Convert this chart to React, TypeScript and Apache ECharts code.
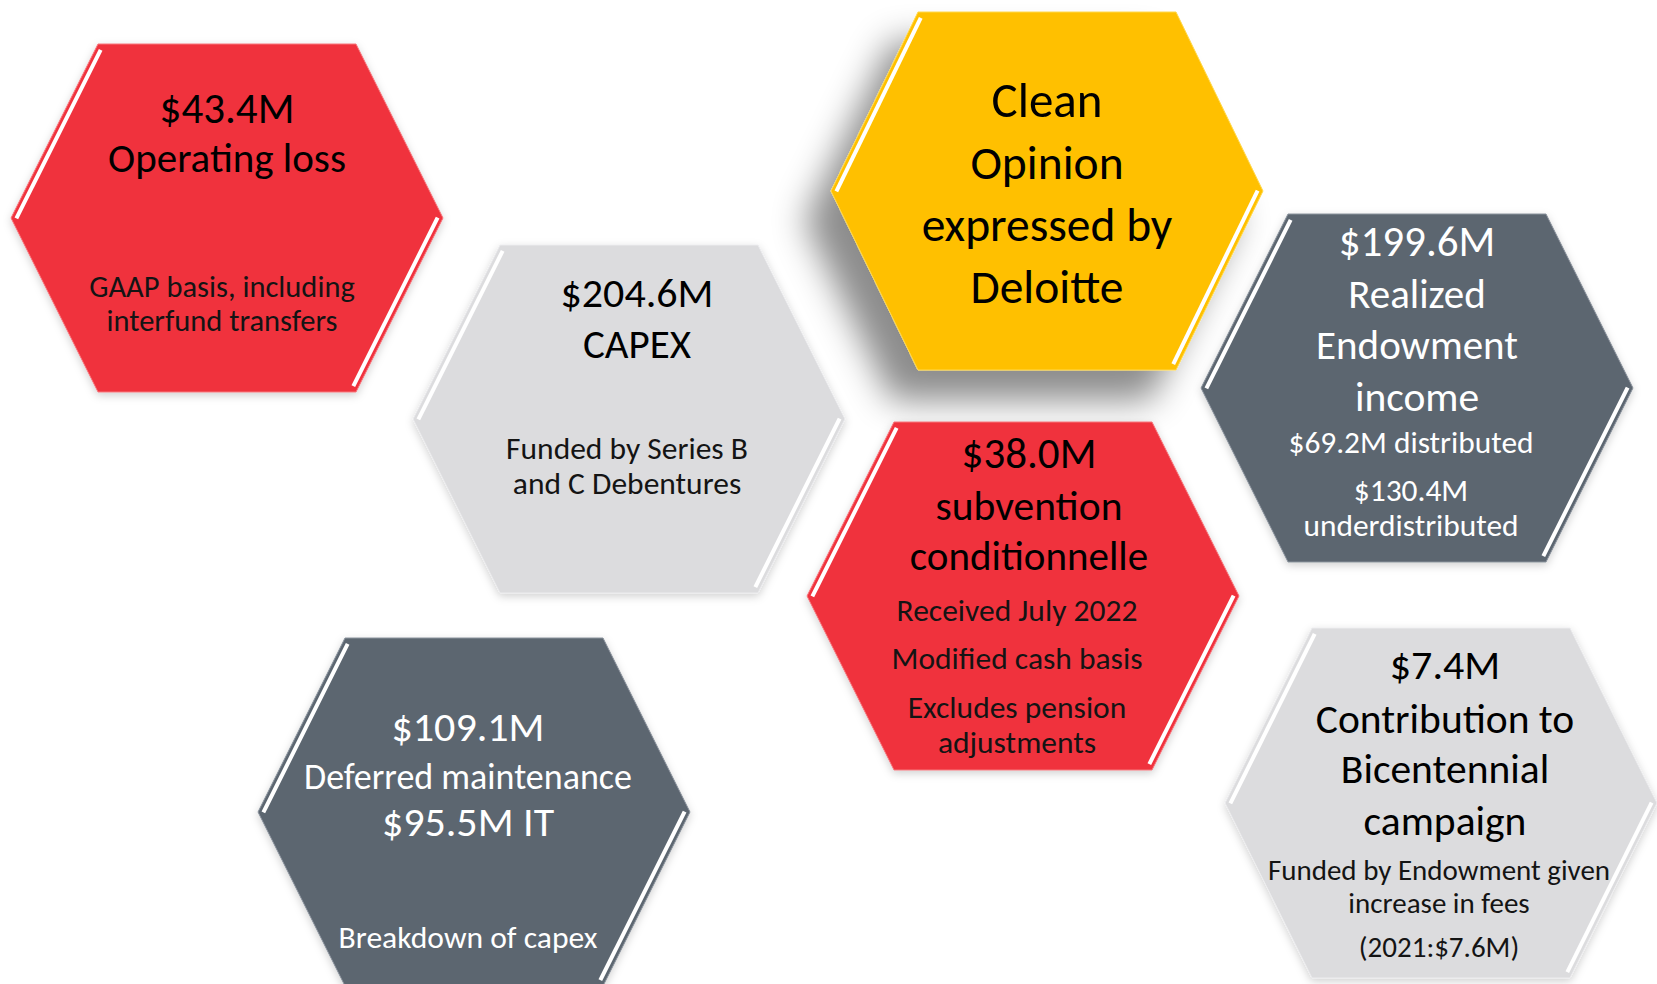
import React, { useEffect, useRef } from "react";
import * as echarts from "echarts";

// ---- content ----
const hexTitles: string[][] = [
  ["$43.4M", "Operating loss"],
  ["$204.6M", "CAPEX"],
  ["Clean", "Opinion", "expressed by", "Deloitte"],
  ["$199.6M", "Realized", "Endowment", "income"],
  ["$38.0M", "subvention", "conditionnelle"],
  ["$109.1M", "Deferred maintenance", "$95.5M IT"],
  ["$7.4M", "Contribution to", "Bicentennial", "campaign"],
];
// note paragraphs (a paragraph may wrap onto two lines)
const hexNotes: string[][] = [
  ["GAAP basis, including\ninterfund transfers"],
  ["Funded by Series B\nand C Debentures"],
  [],
  ["$69.2M distributed", "$130.4M\nunderdistributed"],
  ["Received July 2022", "Modified cash basis", "Excludes pension\nadjustments"],
  ["Breakdown of capex"],
  ["Funded by Endowment given\nincrease in fees", "(2021:$7.6M)"],
];
const hexKind = ["red", "light", "gold", "slate", "red", "slate", "light"];
// hexagon centres, in the hidden axes' units
const hexCenterX = [227, 629, 1047, 1417, 1023, 474, 1441];
const hexCenterY = [218, 419, 191, 388, 596, 812, 803];

// ---- layout / style ----
const HALF_W = 216;
const INSET = 87;
const HALF_H = [174, 174, 179, 174, 174, 174, 175];
const TITLE_DY = [
  [-110, -60],
  [-127, -75],
  [-91, -28, 34, 96],
  [-147, -94, -43, 8],
  [-143, -91, -40],
  [-86, -35, 9],
  [-139, -85, -35, 17],
];
const NOTE_DY = [[85.5], [46.5], [], [54, 119.5], [14, 62, 128.5], [125], [83.5, 144]];
const NOTE_LINE_H = [34, 35, 0, 35, 35, 35, 33];
const TITLE_DX = [0, 8, 0, 0, 6, -6, 4];
const NOTE_DX = [-5, -2, 0, -6, -6, -6, -2];
const TITLE_SIZE = [
  [43, 41],
  [42, 41],
  [49, 47.5, 47.5, 47.5],
  [43, 41, 41, 41.5],
  [43, 41.5, 41],
  [42, 36, 42],
  [42, 41.5, 41.5, 41.5],
];
const NOTE_SIZE = [30.5, 31.5, 0, 31.4, 31.5, 31.6, 29];
const FONT = "Calibri, Carlito, Lato, 'Open Sans', sans-serif";

const PALETTE: Record<string, any> = {
  red: { fill: "#F0333D", edge: "#F6767C", text: "#000000", note: "#141414" },
  light: { fill: "#DCDCDE", edge: "#ECECEE", text: "#000000", note: "#141414" },
  gold: { fill: "#FFC000", edge: "#FFD84D", text: "#000000", note: "#141414" },
  slate: { fill: "#5C6670", edge: "#8A939C", text: "#FFFFFF", note: "#FFFFFF" },
};

export default function App() {
  const ref = useRef<HTMLDivElement>(null);
  useEffect(() => {
    document.body.style.margin = "0";
    if (!ref.current) return;
    const chart = echarts.init(ref.current, undefined, { renderer: "svg" });
    const option: any = {
      animation: false,
      backgroundColor: "#FFFFFF",
      grid: { left: 0, right: 0, top: 0, bottom: 0 },
      xAxis: { type: "value", min: 0, max: 1657, show: false },
      yAxis: { type: "value", min: 0, max: 984, inverse: true, show: false },
      series: [
        {
          type: "custom",
          coordinateSystem: "cartesian2d",
          clip: false,
          data: hexCenterX.map((x, i) => [x, hexCenterY[i], i]),
          renderItem: (_params: any, api: any) => {
            const i = api.value(2) as number;
            const [cx, cy] = api.coord([api.value(0), api.value(1)]);
            const sz = api.size([HALF_W, HALF_H[i]]);
            const hw = Math.abs(sz[0]);
            const hh = Math.abs(sz[1]);
            const ins = Math.abs(api.size([INSET, 0])[0]);
            const pal = PALETTE[hexKind[i]];
            const pts = [
              [cx - hw, cy],
              [cx - hw + ins, cy - hh],
              [cx + hw - ins, cy - hh],
              [cx + hw, cy],
              [cx + hw - ins, cy + hh],
              [cx - hw + ins, cy + hh],
            ];
            const gold = hexKind[i] === "gold";
            const children: any[] = [];
            children.push({
              type: "polygon",
              shape: { points: pts },
              style: {
                fill: pal.fill,
                stroke: pal.edge,
                lineWidth: 1,
                shadowBlur: gold ? 34 : 8,
                shadowColor: gold ? "rgba(0,0,0,0.45)" : "rgba(0,0,0,0.18)",
                shadowOffsetX: gold ? -26 : 0,
                shadowOffsetY: gold ? 30 : 3,
              },
            });
            // bevel highlights
            const len = Math.sqrt(ins * ins + hh * hh);
            const off = 5;
            const dx = ins / len;
            const dy = -hh / len;
            const nx = hh / len;
            const ny = ins / len;
            const L = pts[0];
            const TL = pts[1];
            children.push({
              type: "line",
              shape: {
                x1: L[0] + nx * off + dx * 2,
                y1: L[1] + ny * off + dy * 2,
                x2: TL[0] + nx * off - dx * 4,
                y2: TL[1] + ny * off - dy * 4,
              },
              style: { stroke: "#FFFFFF", lineWidth: 4, lineCap: "butt" },
            });
            const R = pts[3];
            const BR = pts[4];
            children.push({
              type: "line",
              shape: {
                x1: R[0] - nx * off - dx * 2,
                y1: R[1] - ny * off - dy * 2,
                x2: BR[0] - nx * off + dx * 4,
                y2: BR[1] - ny * off + dy * 4,
              },
              style: { stroke: "#FFFFFF", lineWidth: 4, lineCap: "butt" },
            });
            hexTitles[i].forEach((line, k) => {
              children.push({
                type: "text",
                x: cx + TITLE_DX[i],
                y: cy + TITLE_DY[i][k],
                style: {
                  text: line,
                  fill: pal.text,
                  fontSize: TITLE_SIZE[i][k],
                  fontFamily: FONT,
                  fontWeight: 400,
                  align: "center",
                  verticalAlign: "middle",
                },
              });
            });
            hexNotes[i].forEach((para, k) => {
              children.push({
                type: "text",
                x: cx + NOTE_DX[i],
                y: cy + NOTE_DY[i][k],
                style: {
                  text: para,
                  fill: pal.note,
                  fontSize: NOTE_SIZE[i],
                  lineHeight: NOTE_LINE_H[i],
                  fontFamily: FONT,
                  fontWeight: 300,
                  align: "center",
                  verticalAlign: "middle",
                },
              });
            });
            return { type: "group", children };
          },
        },
      ],
    };
    chart.setOption(option);
    return () => chart.dispose();
  }, []);
  return <div ref={ref} style={{ width: "1657px", height: "984px" }} />;
}
